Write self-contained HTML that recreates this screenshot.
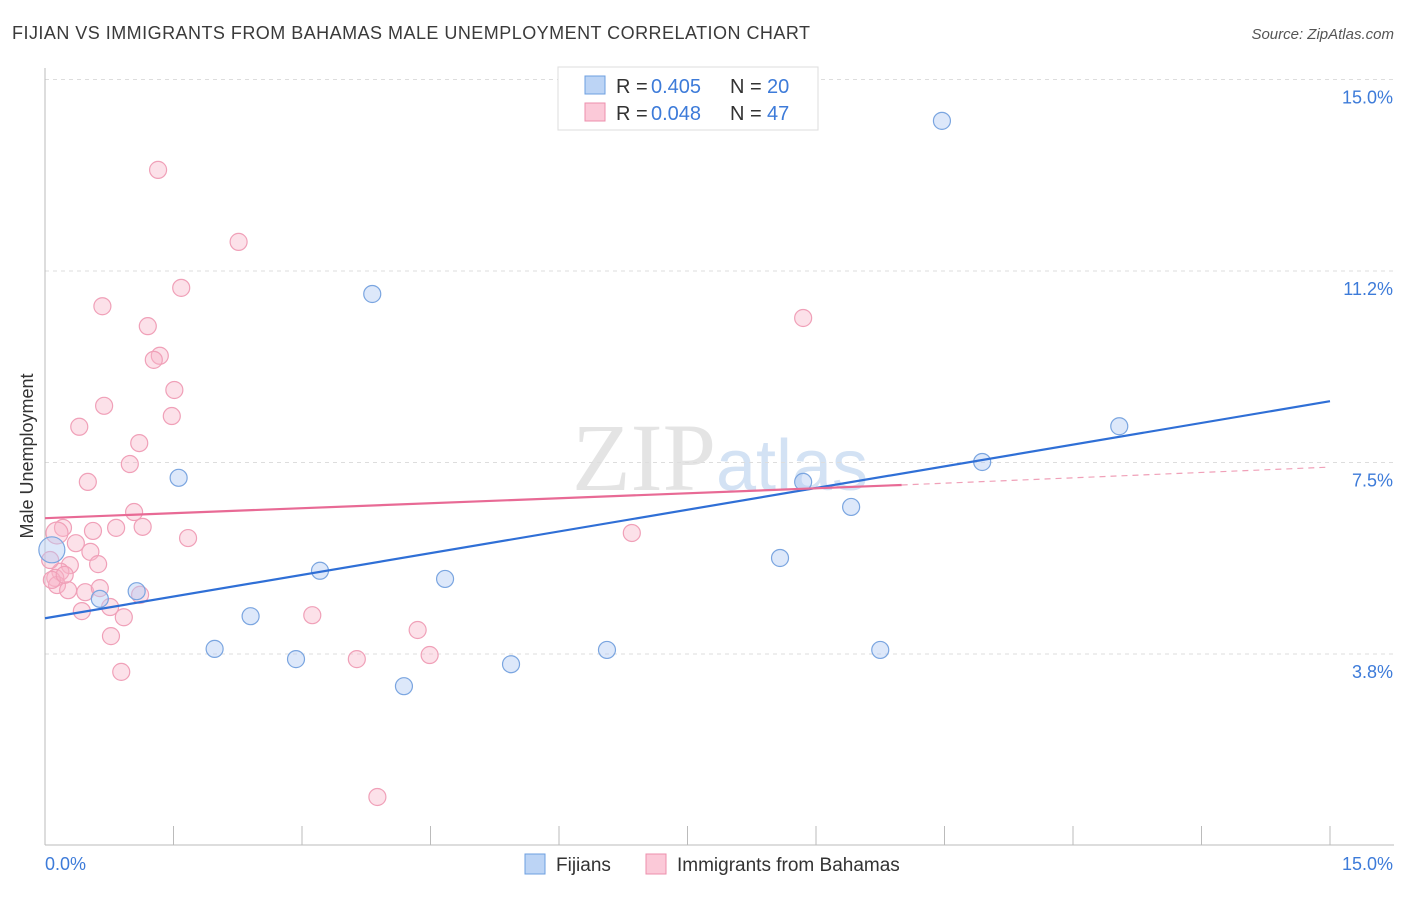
<!DOCTYPE html>
<html><head><meta charset="utf-8"><style>
body{margin:0;background:#fff;font-family:"Liberation Sans",sans-serif;}
</style></head><body>
<svg id="chart" width="1406" height="892" xmlns="http://www.w3.org/2000/svg" font-family="Liberation Sans, sans-serif">
<text x="12" y="39" font-size="18" fill="#3a3a3a" textLength="798" lengthAdjust="spacing">FIJIAN VS IMMIGRANTS FROM BAHAMAS MALE UNEMPLOYMENT CORRELATION CHART</text>
<text x="1394" y="39" font-size="15" fill="#555" text-anchor="end" font-style="italic">Source: ZipAtlas.com</text>
<text x="720" y="490" font-size="96" fill="#e4e4e4" text-anchor="middle" font-family="Liberation Serif, serif">ZIP<tspan fill="#d3e2f4" font-family="Liberation Sans, sans-serif" font-size="72">atlas</tspan></text>
<text transform="translate(33,456) rotate(-90)" font-size="18" fill="#333" text-anchor="middle">Male Unemployment</text>
<g id="grid"></g><g id="axes"></g><g id="marks"></g>
<g>
<rect x="558" y="67" width="260" height="63" fill="#fff" stroke="#ddd"/>
<rect x="585" y="76" width="20" height="18" fill="#bcd4f5" stroke="#6d9fe0"/>
<rect x="585" y="103" width="20" height="18" fill="#fbc9d8" stroke="#ec8fac"/>
<text x="616" y="93" font-size="20" fill="#333">R =</text>
<text x="651" y="93" font-size="20" fill="#3d7bd9">0.405</text>
<text x="730" y="93" font-size="20" fill="#333">N =</text>
<text x="767" y="93" font-size="20" fill="#3d7bd9">20</text>
<text x="616" y="120" font-size="20" fill="#333">R =</text>
<text x="651" y="120" font-size="20" fill="#3d7bd9">0.048</text>
<text x="730" y="120" font-size="20" fill="#333">N =</text>
<text x="767" y="120" font-size="20" fill="#3d7bd9">47</text>
</g>
<g>
<rect x="525" y="854" width="20" height="20" fill="#bcd4f5" stroke="#6d9fe0"/>
<text x="556" y="871" font-size="19" fill="#333">Fijians</text>
<rect x="646" y="854" width="20" height="20" fill="#fbc9d8" stroke="#ec8fac"/>
<text x="677" y="871" font-size="19" fill="#333">Immigrants from Bahamas</text>
</g>
</svg>
<script>
const yTicks=[3.75,7.5,11.25,15];
const yTickLabels=["3.8%","7.5%","11.2%","15.0%"];
const xTicks=[0,1.5,3,4.5,6,7.5,9,10.5,12,13.5,15];
const fijX=[0.08,0.64,1.07,1.56,1.98,2.40,2.93,3.21,3.82,4.19,4.67,5.44,6.56,8.58,8.85,9.41,9.75,10.47,10.94,12.54];
const fijY=[5.79,4.83,4.98,7.20,3.85,4.49,3.65,5.38,10.80,3.12,5.22,3.55,3.83,5.63,7.12,6.63,3.83,14.19,7.51,8.21];
const bahX=[1.32,2.26,1.59,0.67,1.20,1.34,1.27,1.51,0.69,1.48,0.40,1.10,0.99,0.50,1.04,0.21,0.83,1.14,0.56,1.67,0.36,0.53,0.29,0.62,0.18,0.12,0.14,0.27,0.47,0.64,1.11,0.76,0.43,0.92,0.77,0.89,3.12,3.64,4.35,4.49,3.88,6.85,8.85,0.08,0.06,0.23,0.14];
const bahY=[13.23,11.82,10.92,10.56,10.17,9.59,9.51,8.92,8.61,8.41,8.20,7.88,7.47,7.12,6.53,6.22,6.22,6.24,6.16,6.02,5.92,5.75,5.49,5.51,5.36,5.24,5.10,5.00,4.96,5.04,4.91,4.67,4.59,4.47,4.10,3.40,4.51,3.65,4.22,3.73,0.95,6.12,10.33,5.20,5.59,5.30,6.12];
const fijTrend=[[0,4.45],[15,8.70]];
const bahTrendSolid=[[0,6.41],[10,7.06]];
const bahTrendDash=[[10,7.06],[15,7.41]];
const NS="http://www.w3.org/2000/svg";
const X=v=>45+v/15*1285, Y=v=>845.5-v/3.75*191.5;
function mk(t,a,p){const e=document.createElementNS(NS,t);for(const k in a)e.setAttribute(k,a[k]);document.getElementById(p).appendChild(e);return e;}
yTicks.forEach((t,i)=>{
 const l=mk('line',{x1:45,x2:1394,y1:Y(t),y2:Y(t),stroke:'#ddd','stroke-dasharray':'4,4'},'grid');
 
 
 const tx=mk('text',{x:1393,y:Y(t)+24,'font-size':18,fill:'#3d7bd9','text-anchor':'end'},'axes');
 tx.textContent=yTickLabels[i];
 
 
});
const ax=mk('line',{x1:45,x2:45,y1:68,y2:845,stroke:'#bbb'},'axes');


const bx=mk('line',{x1:45,x2:1394,y1:845,y2:845,stroke:'#bbb'},'axes');


xTicks.forEach(t=>{const l=mk('line',{x1:X(t),x2:X(t),y1:826,y2:845,stroke:'#bbb'},'axes');
 
 });
const xl0=mk('text',{x:45,y:870,'font-size':18,fill:'#3d7bd9'},'axes');xl0.textContent='0.0%';


const xl1=mk('text',{x:1393,y:870,'font-size':18,fill:'#3d7bd9','text-anchor':'end'},'axes');xl1.textContent='15.0%';


bahX.forEach((v,i)=>{const r=(i==bahX.length-1)?11:8.5;
 const c=mk('circle',{cx:X(v),cy:Y(bahY[i]),r:r,fill:'rgba(248,180,200,0.4)',stroke:'#f0a0b8','stroke-width':1.2},'marks');
 
 });
fijX.forEach((v,i)=>{const r=i==0?13:8.5;
 const c=mk('circle',{cx:X(v),cy:Y(fijY[i]),r:r,fill:'rgba(180,205,245,0.45)',stroke:'#7aa5e0','stroke-width':1.2},'marks');
 
 });
function ln(d,col,w,dash,name){const l=mk('line',{x1:X(d[0][0]),y1:Y(d[0][1]),x2:X(d[1][0]),y2:Y(d[1][1]),stroke:col,'stroke-width':w},'marks');
 if(dash)l.setAttribute('stroke-dasharray',dash);
 
 }
ln(fijTrend,'#2f6fd6',2.2,null,'fijian-trendline');
ln(bahTrendSolid,'#e86a95',2.2,null,'bahamas-trendline');
ln(bahTrendDash,'#f0a0b8',1.2,'6,5','bahamas-trendline-extension');
</script>
</body></html>
